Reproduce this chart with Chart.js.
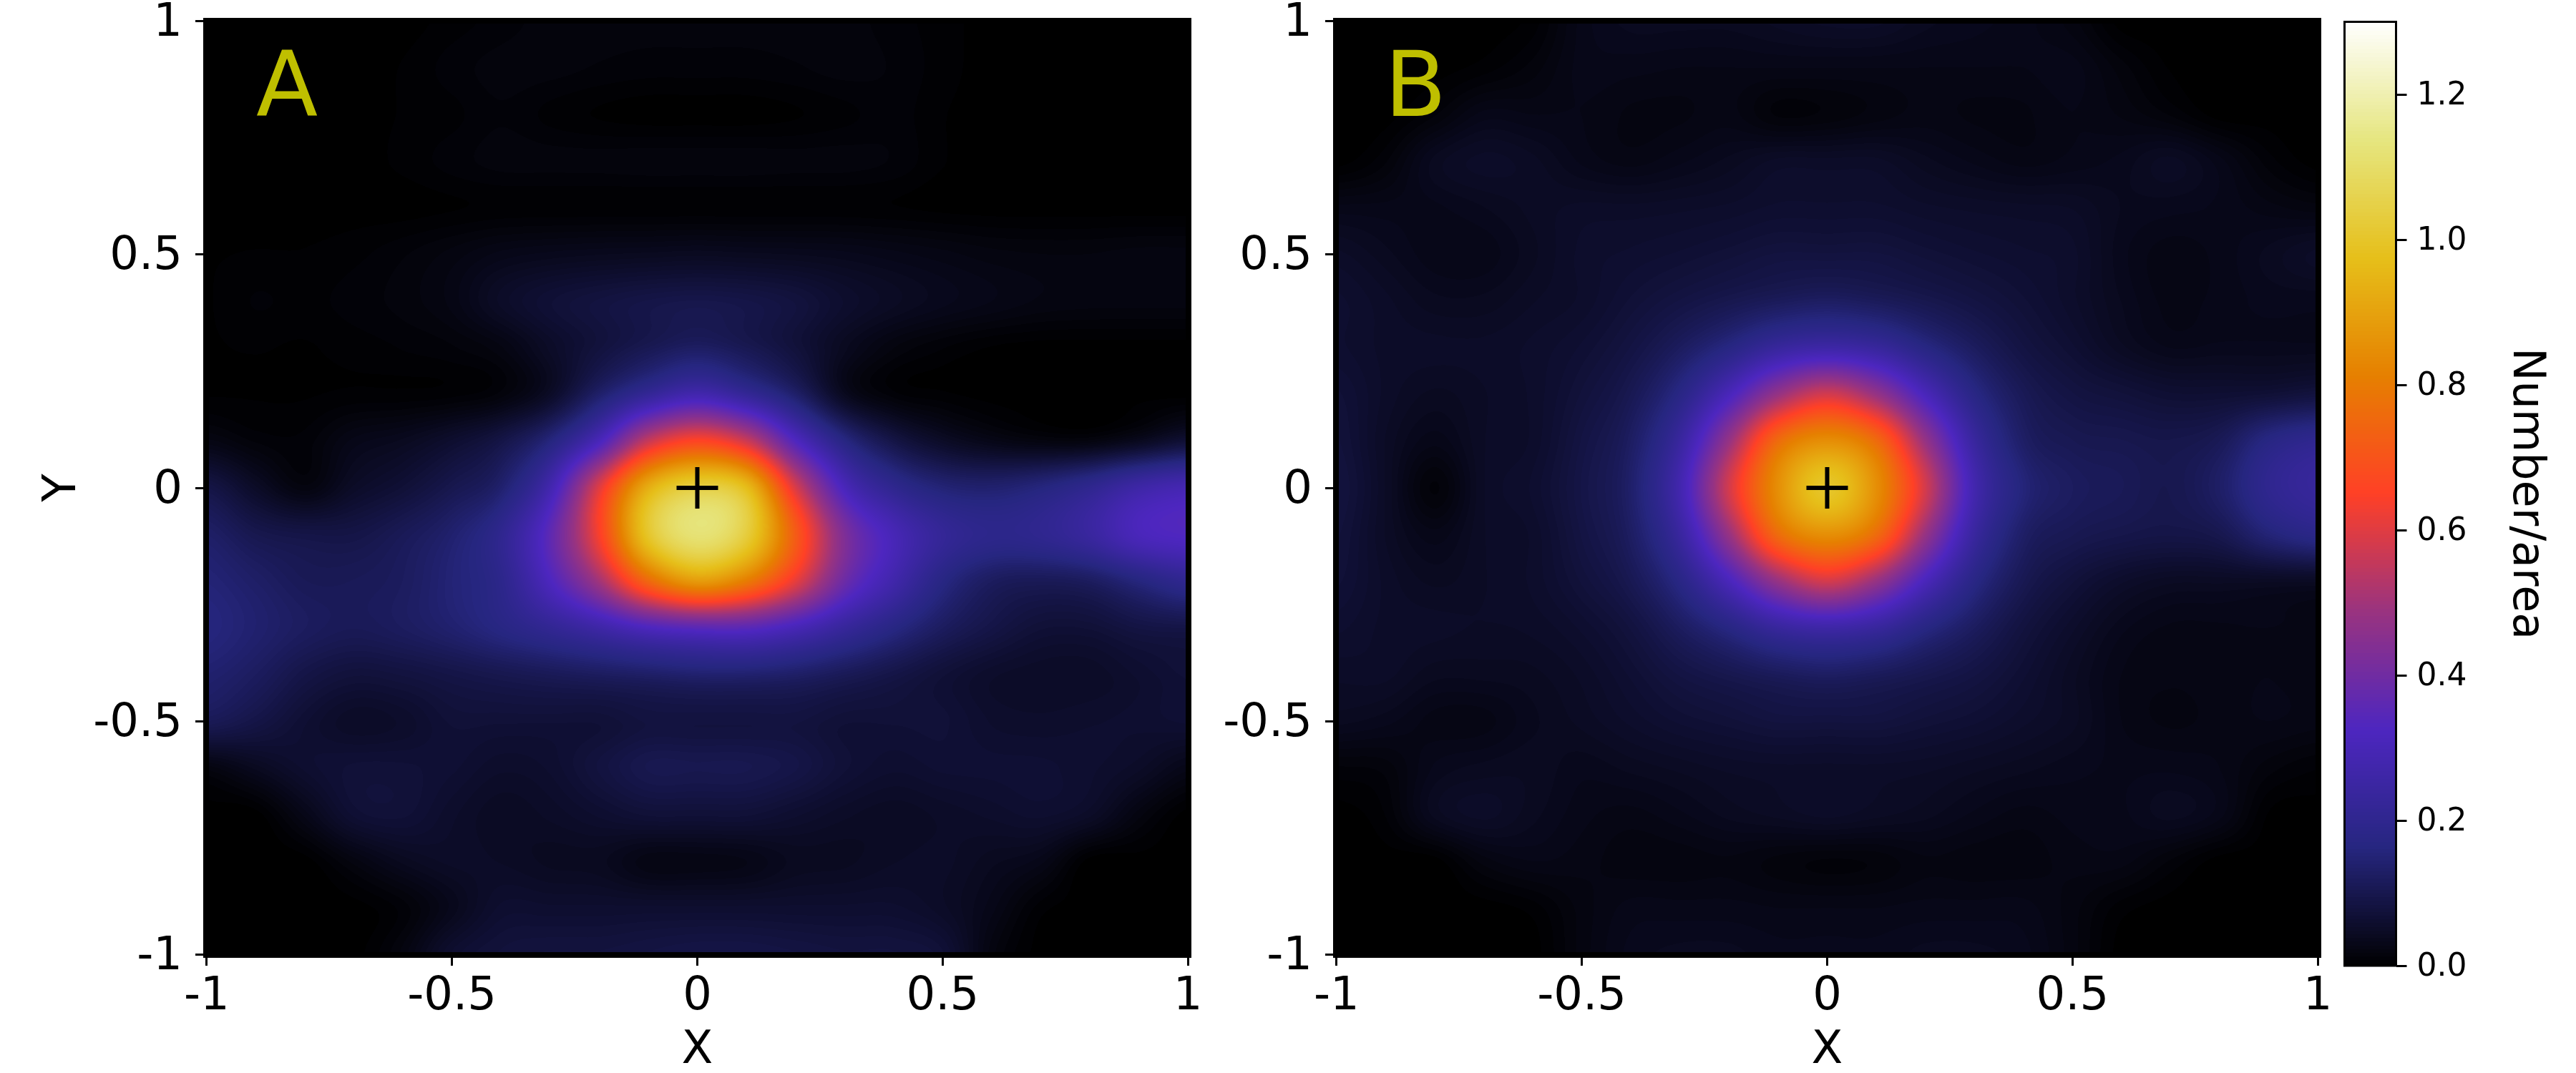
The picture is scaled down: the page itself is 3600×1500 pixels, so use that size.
<!DOCTYPE html>
<html><head><meta charset="utf-8">
<style>html,body{margin:0;padding:0;background:#fff;width:3600px;height:1500px;overflow:hidden}canvas{position:absolute;top:0}</style>
<script src="https://cdn.jsdelivr.net/npm/chart.js@4"></script></head><body>
<canvas id="a" width="1690" height="1500" style="left:0"></canvas>
<canvas id="b" width="1575" height="1500" style="left:1690px"></canvas>
<canvas id="c" width="335" height="1500" style="left:3265px"></canvas>
<script>
const gridX=[-1,-.9,-.8,-.7,-.6,-.5,-.4,-.3,-.2,-.1,0,.1,.2,.3,.4,.5,.6,.7,.8,.9,1];
const gridY=[1,.9,.8,.7,.6,.5,.4,.3,.2,.1,0,-.1,-.2,-.3,-.4,-.5,-.6,-.7,-.8,-.9,-1];
const axisTicks=[-1,-.5,0,.5,1];
const barTicks=[0,.2,.4,.6,.8,1,1.2];
const barStops=[0,.1625,.325,.4875,.65,.8125,.975,1.1375,1.3];
const barRed=[0,38,77,153,255,230,230,230,255];
const barGreen=[0,38,38,51,64,128,191,230,255];
const barBlue=[0,128,191,128,38,0,26,128,255];
const panelLetters=['A','B'];
const barLabel='Number/area';
const valuesA=[
[0,0,0,0,0,.005,.01,.015,.015,.015,.015,.015,.015,.015,.01,.005,0,0,0,0,0],
[0,0,0,0,.003,.01,.015,.015,.012,.01,.01,.01,.012,.015,.012,.005,0,0,0,0,0],
[0,0,0,0,.003,.006,.012,.006,.002,0,0,0,.002,.006,.01,.003,0,0,0,0,0],
[0,0,0,0,.004,.01,.015,.015,.015,.016,.016,.016,.015,.015,.012,.003,0,0,0,0,0],
[0,0,0,0,0,.002,.004,.004,.004,.004,.004,.004,.004,.004,.003,.001,0,0,0,0,0],
[.002,.003,.003,.006,.012,.02,.03,.035,.038,.04,.042,.04,.038,.035,.03,.025,.02,.018,.018,.02,.02],
[.002,.008,.006,.01,.015,.025,.05,.068,.08,.09,.095,.09,.078,.058,.045,.035,.028,.022,.02,.02,.02],
[.002,.003,.002,.005,.008,.012,.022,.05,.078,.105,.125,.105,.075,.04,.018,.008,.002,0,0,0,0],
[.002,.002,.002,.004,.004,.006,.015,.05,.135,.22,.28,.22,.135,.04,.01,.004,0,0,0,0,0],
[.025,.012,.01,.03,.04,.06,.09,.16,.31,.56,.66,.57,.33,.17,.09,.05,.03,.02,.02,.04,.07],
[.09,.05,.02,.05,.07,.1,.14,.28,.6,.93,1.04,.97,.59,.31,.2,.15,.14,.16,.2,.26,.29],
[.13,.1,.09,.09,.11,.14,.2,.36,.64,1.0,1.12,1.03,.72,.43,.3,.22,.19,.2,.24,.31,.33],
[.15,.13,.11,.11,.12,.15,.19,.32,.5,.75,.88,.8,.61,.39,.27,.17,.12,.11,.12,.16,.2],
[.16,.14,.12,.11,.12,.14,.17,.21,.26,.32,.35,.35,.3,.23,.17,.12,.09,.07,.07,.085,.09],
[.14,.12,.09,.075,.08,.09,.1,.11,.12,.13,.14,.14,.13,.11,.09,.07,.055,.05,.05,.06,.07],
[.11,.09,.065,.05,.055,.07,.07,.07,.07,.08,.08,.08,.08,.07,.07,.07,.058,.055,.058,.06,.065],
[.02,.04,.06,.07,.07,.065,.055,.06,.08,.1,.1,.1,.09,.07,.06,.065,.065,.065,.06,.05,.03],
[0,0,.03,.065,.07,.055,.045,.05,.06,.07,.07,.07,.06,.05,.045,.05,.055,.06,.05,.02,0],
[0,0,0,.02,.04,.05,.048,.042,.04,.025,.025,.028,.04,.042,.048,.05,.04,.03,0,0,0],
[0,0,0,0,.01,.035,.06,.06,.06,.06,.06,.06,.06,.06,.06,.05,.03,.005,0,0,0],
[0,0,0,0,.02,.06,.075,.08,.08,.085,.09,.09,.085,.08,.08,.07,.02,0,0,0,0]];
const valuesB=[
[0,0,0,0,.005,.03,.04,.04,.04,.045,.05,.05,.04,.035,.03,.02,0,0,0,0,0],
[0,0,0,.005,.015,.03,.03,.028,.028,.028,.028,.028,.028,.028,.028,.03,.015,.002,0,0,0],
[0,0,.012,.03,.028,.028,.022,.022,.025,.012,.014,.02,.025,.022,.022,.028,.022,.012,0,0,0],
[0,.012,.04,.05,.045,.032,.026,.032,.04,.05,.05,.05,.04,.032,.026,.03,.035,.045,.03,.01,0],
[.03,.03,.032,.038,.045,.05,.05,.052,.055,.06,.06,.06,.055,.052,.05,.048,.038,.035,.032,.025,.02],
[.05,.04,.03,.03,.042,.055,.06,.065,.072,.08,.08,.08,.072,.065,.06,.055,.035,.025,.03,.04,.05],
[.06,.05,.04,.04,.048,.055,.07,.085,.1,.115,.125,.115,.1,.085,.07,.055,.038,.026,.03,.035,.035],
[.06,.052,.05,.05,.055,.065,.085,.12,.17,.235,.26,.235,.17,.12,.085,.065,.045,.033,.035,.035,.035],
[.07,.052,.042,.048,.055,.075,.105,.175,.31,.48,.58,.48,.31,.175,.11,.085,.075,.065,.065,.07,.08],
[.075,.048,.03,.048,.055,.085,.125,.24,.48,.76,.85,.76,.48,.24,.13,.105,.1,.095,.11,.17,.2],
[.08,.048,.012,.048,.06,.09,.135,.28,.58,.85,1,.85,.58,.28,.155,.12,.11,.1,.13,.2,.23],
[.075,.048,.03,.048,.055,.085,.125,.24,.48,.76,.85,.76,.48,.24,.13,.105,.095,.09,.1,.15,.18],
[.07,.052,.042,.048,.055,.075,.105,.175,.31,.48,.58,.48,.31,.175,.105,.075,.055,.045,.045,.045,.045],
[.06,.052,.05,.048,.05,.06,.08,.12,.17,.235,.26,.235,.17,.12,.08,.055,.035,.027,.027,.028,.025],
[.05,.05,.04,.04,.042,.05,.065,.085,.1,.115,.125,.115,.1,.085,.065,.045,.028,.024,.026,.028,.025],
[.04,.035,.026,.026,.037,.045,.055,.065,.072,.08,.08,.08,.072,.065,.055,.045,.028,.022,.025,.028,.025],
[.012,.015,.034,.04,.042,.035,.04,.045,.05,.052,.052,.052,.05,.045,.04,.035,.032,.032,.028,.015,.008],
[0,.008,.04,.05,.04,.03,.026,.032,.04,.045,.05,.045,.04,.032,.026,.03,.032,.04,.03,.002,0],
[0,0,0,.02,.028,.025,.02,.02,.022,.016,.012,.014,.022,.02,.02,.025,.025,.012,0,0,0],
[0,0,0,0,.005,.02,.03,.03,.03,.028,.028,.028,.03,.03,.03,.02,.005,0,0,0,0],
[0,0,0,0,0,.02,.035,.04,.04,.035,.035,.035,.04,.04,.035,.02,0,0,0,0,0]];

const FONT='"DejaVu Sans"';
const lut=[];
for(let i=0;i<256;i++){const v=i/255*1.3;let k=0;while(k<barStops.length-2&&v>barStops[k+1])k++;
 const t=(v-barStops[k])/(barStops[k+1]-barStops[k]);
 lut.push([barRed,barGreen,barBlue].map(c=>Math.round(c[k]+(c[k+1]-c[k])*t)));}
const colourOf=v=>lut[Math.max(0,Math.min(255,Math.round(v/1.3*255)))];
function cubic(a,b,c,d,t){return b+.5*t*(c-a+t*(2*a-5*b+4*c-d+t*(3*(b-c)+d-a)));}

const heatPlugin={id:'heat',beforeDatasetsDraw(ch,args,opts){
 const {left,top,right,bottom}=ch.chartArea,ctx=ch.ctx,sx=ch.scales.x,sy=ch.scales.y;
 const W=Math.round(right-left),H=Math.round(bottom-top);
 const cells=ch.data.datasets[0].data,n=gridX.length;
 const at=(r,c)=>cells[Math.max(0,Math.min(n-1,r))*n+Math.max(0,Math.min(n-1,c))].v;
 const img=ctx.createImageData(W,H),d=img.data;
 const dx=gridX[1]-gridX[0],dy=gridY[1]-gridY[0];
 const colPos=[];for(let i=0;i<W;i++){colPos.push(sx.getValueForPixel(left+i+.5));}
 for(let j=0;j<H;j++){
  const yv=sy.getValueForPixel(top+j+.5),rf=(yv-gridY[0])/dy,r=Math.floor(rf),tr=rf-r;
  for(let i=0;i<W;i++){
   const p=(j*W+i)*4;d[p+3]=255;
   const xv=colPos[i];
   if(Math.abs(xv)>.995||Math.abs(yv)>.995)continue;
   const cf=(xv-gridX[0])/dx,c=Math.floor(cf),tc=cf-c,col=[];
   for(let q=-1;q<3;q++)col.push(cubic(at(r+q,c-1),at(r+q,c),at(r+q,c+1),at(r+q,c+2),tc));
   const rgb=colourOf(cubic(col[0],col[1],col[2],col[3],tr));
   d[p]=rgb[0];d[p+1]=rgb[1];d[p+2]=rgb[2];
  }}
 ctx.putImageData(img,Math.round(left),Math.round(top));
},afterDraw(ch,args,opts){const c=ch.ctx;c.save();c.font='126px '+FONT;c.fillStyle='#BFBF00';c.textBaseline='alphabetic';
 c.fillText(opts.text,ch.chartArea.left+opts.dx,ch.chartArea.top+137);c.restore();}};

const barPlugin={id:'bar',beforeDatasetsDraw(ch){
 const {left,top,right,bottom}=ch.chartArea,ctx=ch.ctx,s=ch.scales.y;
 for(let py=Math.floor(top);py<Math.ceil(bottom);py++){const rgb=colourOf(s.getValueForPixel(py+.5));
  ctx.fillStyle=`rgb(${rgb[0]},${rgb[1]},${rgb[2]})`;ctx.fillRect(left,py,right-left,1);}
 ctx.strokeStyle='#000';ctx.lineWidth=3;ctx.strokeRect(left,top,right-left,bottom-top);}};

const noPad=s=>{s.paddingTop=0;s.paddingBottom=0;s.paddingLeft=0;s.paddingRight=0;};
function makePanel(id,values,cfg){
 const cells=[];gridY.forEach((y,r)=>gridX.forEach((x,c)=>cells.push({x,y,v:values[r][c]})));
 const fixed=a=>{a.ticks=axisTicks.map(value=>({value}));};
 const label=v=>String(v);
 return new Chart(document.getElementById(id),{type:'scatter',plugins:[heatPlugin],
  data:{datasets:[{label:'density',data:cells,pointRadius:0,pointHoverRadius:0},
   {label:'centre',data:[{x:0,y:0}],pointStyle:'cross',pointRadius:29,borderWidth:6,borderColor:'#000',backgroundColor:'#000',clip:false}]},
  options:{responsive:false,animation:false,events:[],
   layout:{autoPadding:false,padding:{left:0,top:25,right:cfg.right,bottom:0}},
   plugins:{legend:{display:false},tooltip:{enabled:false},heat:{text:cfg.letter,dx:cfg.dx}},
   scales:{
    x:{type:'linear',min:-1.007,max:1.007,afterBuildTicks:fixed,afterFit:s=>{s.height=161;noPad(s);},
     border:{display:false},grid:{drawOnChartArea:false,tickLength:11,tickWidth:3,tickColor:'#000'},
     ticks:{autoSkip:false,maxRotation:0,callback:label,color:'#000',padding:6,font:{family:FONT,size:64}},
     title:{display:true,text:'X',color:'#000',font:{family:FONT,size:64,lineHeight:.97},padding:0}},
    y:{type:'linear',min:-1.007,max:1.007,afterBuildTicks:fixed,afterFit:s=>{s.width=cfg.w;noPad(s);},
     border:{display:false},grid:{drawOnChartArea:false,tickLength:11,tickWidth:3,tickColor:'#000'},
     ticks:{autoSkip:false,callback:label,color:'#000',padding:18,labelOffset:4,font:{family:FONT,size:64}},
     title:{display:cfg.yTitle,text:'Y',color:'#000',font:{family:FONT,size:64},padding:{top:50,bottom:0}}}
   }}});
}
makePanel('a',valuesA,{letter:panelLetters[0],dx:74,right:25,w:284,yTitle:true});
makePanel('b',valuesB,{letter:panelLetters[1],dx:72,right:21,w:173,yTitle:false});

new Chart(document.getElementById('c'),{type:'scatter',plugins:[barPlugin],
 data:{datasets:[{label:'scale',data:barStops.map(v=>({x:0,y:v})),pointRadius:0}]},
 options:{responsive:false,animation:false,events:[],
  layout:{autoPadding:false,padding:{left:11.5,top:30.5,right:0,bottom:150}},
  plugins:{legend:{display:false},tooltip:{enabled:false}},
  scales:{
   x:{type:'linear',display:false,min:-1,max:1},
   y:{position:'right',type:'linear',min:0,max:1.3,afterBuildTicks:a=>{a.ticks=barTicks.map(value=>({value}));},
    afterFit:s=>{s.width=251.5;noPad(s);},border:{display:false},
    grid:{drawOnChartArea:false,tickLength:15,tickWidth:3,tickColor:'#000'},
    ticks:{autoSkip:false,callback:v=>v.toFixed(1),color:'#000',padding:14,labelOffset:3,font:{family:FONT,size:44}},
    title:{display:true,text:barLabel,color:'#000',font:{family:FONT,size:62},padding:{top:34,bottom:0}}}
  }}});
</script></body></html>
